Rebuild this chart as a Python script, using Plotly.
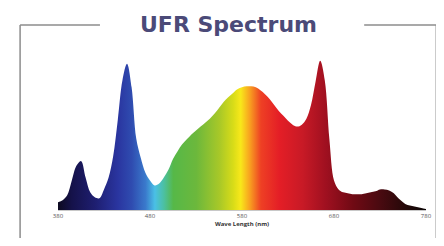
import plotly.graph_objects as go

wavelength = list(range(380, 781, 5))
intensity = [8, 10, 15, 30, 45, 50, 33, 18, 13, 12,
             21, 33, 55, 92, 132, 149, 125, 73, 53, 38,
             30, 25, 27, 33, 41, 52, 60, 67, 72, 77,
             81, 85, 89, 93, 98, 104, 110, 115, 119, 123,
             125, 126, 126, 125, 122, 118, 113, 107, 101, 96,
             91, 87, 85, 87, 93, 107, 131, 152, 132, 72,
             30, 21, 18, 17, 16, 16, 16, 17, 18, 19,
             21, 21, 20, 17, 12, 8, 5, 4, 3, 2, 1]
tick_vals = [380, 480, 580, 680, 780]
tick_text = ["380", "480", "580", "680", "780"]
title_text = "UFR Spectrum"
axis_title = "Wave Length (nm)"

spectrum_scale = [
    [0.0, "#0d0a20"], [0.0375, "#15124a"], [0.1, "#1e1e70"], [0.1625, "#2a35a0"],
    [0.2, "#2f4cb0"], [0.2375, "#3a7acc"], [0.2625, "#4ac0e6"], [0.2875, "#4cc0a0"],
    [0.3125, "#56b848"], [0.375, "#6cb83c"], [0.4375, "#a8c828"], [0.475, "#d8dc18"],
    [0.495, "#f8e81a"], [0.52, "#f8a020"], [0.55, "#ee4024"], [0.6, "#e41e26"],
    [0.6625, "#c81a26"], [0.725, "#a01020"], [0.8, "#700a14"], [0.875, "#480a10"],
    [0.95, "#200808"], [1.0, "#0a0505"],
]

fig = go.Figure()
fig.add_trace(go.Scatter(
    x=wavelength, y=intensity, mode="lines", line=dict(width=0, shape="spline"),
    fill="tozeroy",
    fillgradient=dict(type="horizontal", colorscale=spectrum_scale, start=380, stop=780),
    hoverinfo="skip", showlegend=False,
))

frame = dict(color="#8c8c8c", width=1.5)
fig.add_shape(type="line", xref="paper", yref="paper", x0=-0.103, x1=-0.103, y0=1.178, y1=-0.2, line=frame)
fig.add_shape(type="line", xref="paper", yref="paper", x0=1.028, x1=1.028, y0=1.178, y1=-0.2, line=frame)
fig.add_shape(type="line", xref="paper", yref="paper", x0=-0.103, x1=0.114, y0=1.178, y1=1.178, line=frame)
fig.add_shape(type="line", xref="paper", yref="paper", x0=0.832, x1=1.028, y0=1.178, y1=1.178, line=frame)

fig.add_annotation(text="<b>" + title_text + "</b>", xref="paper", yref="paper",
                   x=0.463, y=1.184, showarrow=False, xanchor="center", yanchor="middle",
                   font=dict(family="DejaVu Sans", size=22, color="#4b4a78"))

fig.update_layout(
    width=436, height=230,
    margin=dict(l=50, r=17, t=45, b=25),
    paper_bgcolor="white", plot_bgcolor="white",
    xaxis=dict(range=[380, 780], tickvals=tick_vals, ticktext=tick_text,
               showgrid=False, zeroline=False, showline=True, linecolor="#c8c8c8", linewidth=1,
               ticks="", tickfont=dict(family="Open Sans", size=6, color="#555"),
               title=dict(text="<b>" + axis_title + "</b>", font=dict(family="Open Sans", size=6, color="#333"), standoff=2)),
    yaxis=dict(range=[0, 160], visible=False),
)

fig.write_html("out.html")
